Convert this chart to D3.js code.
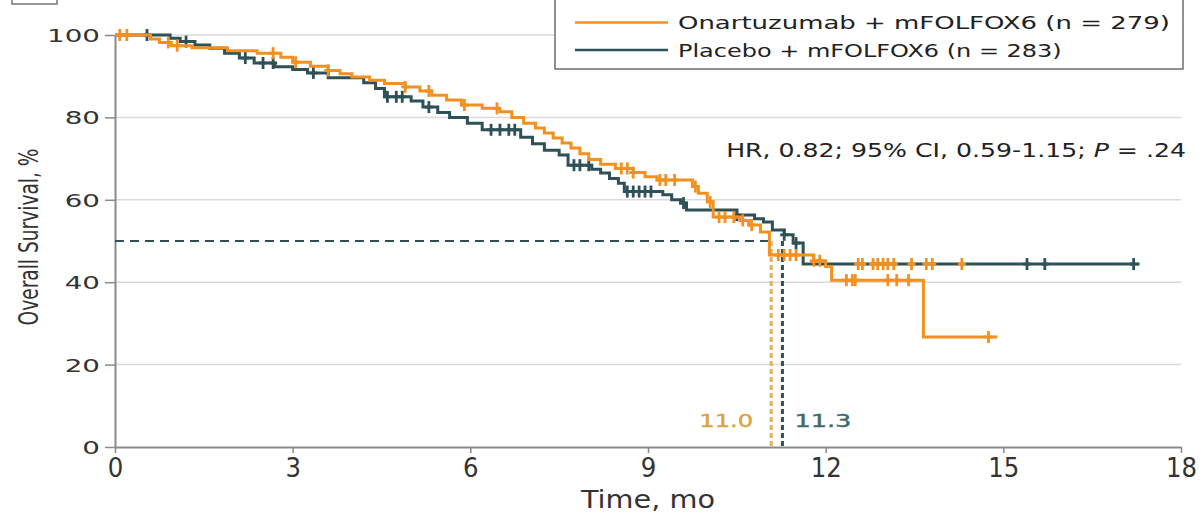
<!DOCTYPE html>
<html><head><meta charset="utf-8">
<script src="https://cdn.jsdelivr.net/npm/d3@7"></script>
<style>
html,body{margin:0;padding:0;background:#fff;}
svg{display:block;}
</style></head>
<body>
<svg id="chart" width="1204" height="513"></svg>
<script>
// ---------- DATA ----------
const seriesNames = ["Onartuzumab + mFOLFOX6 (n = 279)", "Placebo + mFOLFOX6 (n = 283)"];
// Kaplan-Meier steps: [time (mo), survival (%) after the drop]
const onartSteps = [[0,100],[0.6,99.0],[0.75,98.2],[0.95,97.4],[1.3,96.9],[1.9,96.2],[2.4,95.6],[2.8,94.6],[3.0,93.4],[3.3,92.4],[3.6,91.4],[3.8,90.6],[4.0,89.8],[4.3,89.0],[4.55,88.2],[4.9,87.4],[5.15,86.4],[5.35,85.4],[5.6,84.2],[5.85,83.0],[6.2,82.2],[6.5,81.4],[6.7,80.0],[6.9,78.6],[7.1,77.4],[7.25,76.2],[7.4,75.0],[7.55,73.8],[7.7,72.6],[7.85,71.2],[8.0,69.8],[8.2,68.6],[8.45,67.6],[8.75,66.6],[8.95,65.6],[9.15,64.8],[9.75,63.2],[9.85,61.6],[10.0,59.5],[10.1,55.8],[10.55,55.0],[10.7,53.9],[10.9,52.2],[11.05,46.6],[11.8,45.2],[12.0,43.8],[12.1,40.5],[13.65,26.7]];
const onartEnd = 14.9;
const placeboSteps = [[0,100],[0.93,99.2],[1.1,98.4],[1.35,97.6],[1.6,96.8],[1.85,95.6],[2.1,94.4],[2.35,93.2],[2.7,92.3],[3.0,91.6],[3.25,90.8],[3.6,89.6],[4.2,88.4],[4.4,87.0],[4.55,85.0],[5.0,84.0],[5.2,82.5],[5.45,81.2],[5.65,80.0],[5.95,78.6],[6.2,77.0],[6.85,75.2],[7.05,73.6],[7.25,72.0],[7.5,70.9],[7.65,68.4],[8.05,67.4],[8.2,66.5],[8.35,65.2],[8.5,64.0],[8.6,62.0],[9.25,61.2],[9.4,60.0],[9.55,59.2],[9.65,57.5],[10.5,56.3],[10.8,55.4],[10.95,54.6],[11.1,52.7],[11.3,51.5],[11.45,49.5],[11.62,44.4]];
const placeboEnd = 17.3;
// censoring times (mo)
const onartCensors = [0.08,0.2,0.9,1.05,2.67,3.05,3.6,4.9,5.3,5.9,6.45,8.55,8.65,8.75,9.2,9.3,9.45,9.8,10.05,10.2,10.3,10.45,10.6,10.75,11.2,11.3,11.4,11.5,11.8,11.9,12.35,12.45,12.5,13.05,13.2,13.4,14.75];
// onartuzumab censor marks drawn at the placebo plateau level: [time, survival]
const onartCensorsUpper = [[12.55,44.4],[12.62,44.4],[12.8,44.4],[12.88,44.4],[12.97,44.4],[13.05,44.4],[13.15,44.4],[13.45,44.4],[13.7,44.4],[13.8,44.4],[14.3,44.4]];
const placeboCensors = [0.54,1.2,2.2,2.5,2.67,3.35,4.6,4.75,4.85,5.3,6.35,6.5,6.65,6.75,7.75,7.85,8.0,8.65,8.75,8.85,8.95,9.05,9.6,10.5,11.3,11.5,15.4,15.7,17.2];
const medianTimes = [11.08, 11.27];
const medianLabels = ["11.0", "11.3"];
const xTickValues = [0,3,6,9,12,15,18];
const yTickValues = [0,20,40,60,80,100];
const hrText = ["HR, 0.82; 95% CI, 0.59-1.15; ", "P", " = .24"];

// ---------- STYLE ----------
const cOrange = "#F29020", cTeal = "#2D5157";
const cOrangeMed = "#E4AE5E", cOrangeLab = "#D9A440", cTealLab = "#3E6A6C";
const wideFont = "'DejaVu Sans', Verdana, sans-serif";
const narrowFont = "'Liberation Sans Narrow', 'DejaVu Sans Condensed', 'DejaVu Sans', sans-serif";

const svg = d3.select("#chart");
const x = d3.scaleLinear().domain([0,18]).range([115,1181]);
const y = d3.scaleLinear().domain([0,100]).range([447,35]);

function fitWidth(sel, target){
  const w = sel.node().getComputedTextLength();
  return target / w;
}

// top panel label box remnant (cut off at the top edge)
svg.append("rect").attr("x",12).attr("y",-30).attr("width",45).attr("height",34)
  .attr("fill","none").attr("stroke","#777").attr("stroke-width",1.5);

// gridlines
svg.append("g").selectAll("line").data(yTickValues.filter(d=>d>0)).join("line")
  .attr("x1",x(0)).attr("x2",x(18)).attr("y1",d=>y(d)).attr("y2",d=>y(d))
  .attr("stroke","#dadada").attr("stroke-width",1.5);

// axes
const yAxis = svg.append("g").attr("transform",`translate(${x(0)},0)`)
  .call(d3.axisLeft(y).tickValues(yTickValues).tickSize(10).tickSizeOuter(0));
const xAxis = svg.append("g").attr("transform",`translate(0,${y(0)})`)
  .call(d3.axisBottom(x).tickValues(xTickValues).tickSize(6).tickSizeOuter(0));
[yAxis,xAxis].forEach(a=>{
  a.select(".domain").attr("stroke","#8a8a8a").attr("stroke-width",2);
  a.selectAll(".tick line").attr("stroke","#8a8a8a").attr("stroke-width",1.5);
});
yAxis.selectAll(".tick text").attr("font-family",wideFont).attr("font-size",18).attr("fill","#333");
const ysx = 53 / yAxis.selectAll(".tick text").filter(d=>d===100).node().getComputedTextLength();
yAxis.selectAll(".tick text").attr("x",-15/ysx).attr("dy","0.36em").attr("transform",`scale(${ysx},1)`);
xAxis.selectAll(".tick text").attr("font-family",narrowFont).attr("font-size",27).attr("fill","#333").attr("y",11).attr("dy","0.71em");
const xsx = 31 / xAxis.selectAll(".tick text").filter(d=>d===18).node().getComputedTextLength();
xAxis.selectAll(".tick text").attr("transform",`scale(${xsx},1)`);

// axis titles
const xt = svg.append("text").attr("font-family",narrowFont).attr("font-size",25).attr("fill","#333")
  .attr("text-anchor","middle").text("Time, mo");
xt.attr("transform",`translate(648,508) scale(${fitWidth(xt,134)},1)`);
const yt = svg.append("text").attr("font-family",narrowFont).attr("font-size",27).attr("fill","#333")
  .attr("text-anchor","middle").text("Overall Survival, %");
yt.attr("transform",`translate(38,237) rotate(-90) scale(${fitWidth(yt,177)},1)`);

// median reference lines
svg.append("line").attr("x1",x(0)).attr("x2",x(medianTimes[0])).attr("y1",y(50)).attr("y2",y(50))
  .attr("stroke",cTeal).attr("stroke-width",2).attr("stroke-dasharray","9,6");
const medColors = [cOrangeMed, cTeal];
medianTimes.forEach((t,i)=>{
  svg.append("line").attr("x1",x(t)).attr("x2",x(t)).attr("y1",y(50)).attr("y2",y(0))
    .attr("stroke",medColors[i]).attr("stroke-width",3).attr("stroke-dasharray","5,3");
});
const ml0 = svg.append("text").attr("font-family",wideFont).attr("font-size",18).attr("fill",cOrangeLab)
  .attr("text-anchor","end").attr("stroke",cOrangeLab).attr("stroke-width",0.4).text(medianLabels[0]);
ml0.attr("transform",`translate(${x(medianTimes[0])-18},427) scale(${fitWidth(ml0,54)},1)`);
const ml1 = svg.append("text").attr("font-family",wideFont).attr("font-size",18).attr("fill",cTealLab)
  .attr("text-anchor","start").attr("stroke",cTealLab).attr("stroke-width",0.4).text(medianLabels[1]);
ml1.attr("transform",`translate(${x(medianTimes[1])+12},427) scale(${fitWidth(ml1,57)},1)`);

// curves
function survAt(steps,t){ let s=steps[0][1]; for(const st of steps){ if(st[0]<=t) s=st[1]; } return s; }
const line = d3.line().x(d=>x(d[0])).y(d=>y(d[1])).curve(d3.curveStepAfter);
function drawSeries(steps,end,censors,color,width){
  const pts = steps.concat([[end, steps[steps.length-1][1]]]);
  svg.append("path").datum(pts).attr("d",line).attr("fill","none")
    .attr("stroke",color).attr("stroke-width",width).attr("stroke-linejoin","miter");
  const cs = censors.map(c=>Array.isArray(c)?c:[c,survAt(steps,c)]);
  const g = svg.append("g").attr("stroke",color).attr("stroke-width",2.8);
  g.selectAll("line.v").data(cs).join("line").attr("class","v")
    .attr("x1",d=>x(d[0])).attr("x2",d=>x(d[0])).attr("y1",d=>y(d[1])-6).attr("y2",d=>y(d[1])+6);
  g.selectAll("line.h").data(cs).join("line").attr("class","h")
    .attr("x1",d=>x(d[0])-4).attr("x2",d=>x(d[0])+4).attr("y1",d=>y(d[1])).attr("y2",d=>y(d[1]));
}
drawSeries(placeboSteps, placeboEnd, placeboCensors, cTeal, 3);
drawSeries(onartSteps, onartEnd, onartCensors.concat(onartCensorsUpper), cOrange, 3);

// HR annotation
const hr = svg.append("text").attr("font-family",wideFont).attr("font-size",19).attr("fill","#222")
  .attr("text-anchor","end");
hr.append("tspan").text(hrText[0]);
hr.append("tspan").attr("font-style","italic").text(hrText[1]);
hr.append("tspan").text(hrText[2]);
hr.attr("transform",`translate(1186,157) scale(${fitWidth(hr,460)},1)`);

// legend
const lg = svg.append("g");
lg.append("rect").attr("x",555).attr("y",-5).attr("width",628).attr("height",74)
  .attr("fill","#fff").attr("stroke","#6e6e6e").attr("stroke-width",1.5);
const legColors = [cOrange, cTeal];
const legTargets = [492, 384];
seriesNames.forEach((n,i)=>{
  const ly = 22.5 + i*27.5;
  lg.append("line").attr("x1",575).attr("x2",668).attr("y1",ly).attr("y2",ly)
    .attr("stroke",legColors[i]).attr("stroke-width",2.6);
  const t = lg.append("text").attr("font-family",wideFont).attr("font-size",18.5).attr("fill","#222").text(n);
  t.attr("transform",`translate(678,${ly+6.5}) scale(${fitWidth(t,legTargets[i])},1)`);
});
</script>
</body></html>
